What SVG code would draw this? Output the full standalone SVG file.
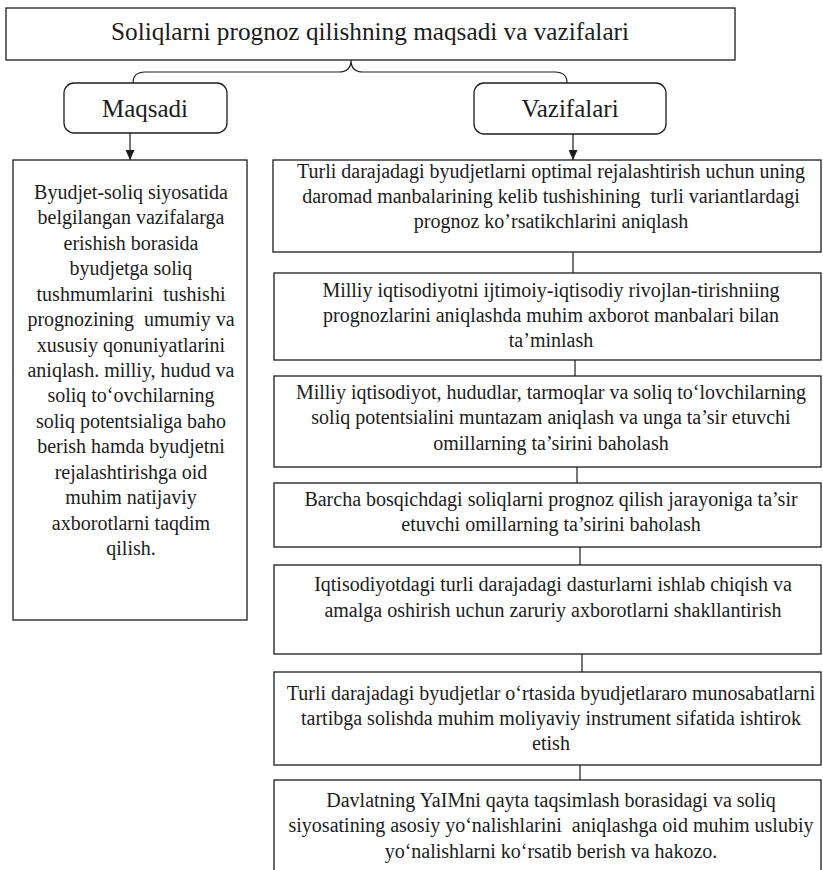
<svg xmlns="http://www.w3.org/2000/svg" width="823" height="870" viewBox="0 0 823 870">
  <defs>
    <style>
      .box{fill:#fff;stroke:#1c1c1c;stroke-width:1.3}
      .link{fill:none;stroke:#1c1c1c;stroke-width:1.2}
      .t{font-family:"Liberation Serif","Times New Roman",serif;fill:#1c1c1c;text-anchor:middle}
      .head{font-size:25px}
      .body{font-size:20px}
    </style>
    <marker id="ah" markerUnits="userSpaceOnUse" markerWidth="10" markerHeight="9" refX="10" refY="4.5" orient="auto">
      <path d="M0,0 L10,4.5 L0,9 z" fill="#1c1c1c"/>
    </marker>
  </defs>
  <rect width="823" height="870" fill="#fff"/>

  <!-- connectors -->
  <g id="connectors">
    <path class="link" d="M133,83 Q133,72 145,72 L339,72 Q351,72 351,60 Q351,72 363,72 L555,72 Q567,72 567,83"/>
    <path class="link" d="M130,133 L130,160" marker-end="url(#ah)"/>
    <path class="link" d="M573,134 L573,160" marker-end="url(#ah)"/>
    <path class="link" d="M573,252 L573,273"/>
    <path class="link" d="M575,360 L575,376"/>
    <path class="link" d="M577,467 L577,483"/>
    <path class="link" d="M580,547 L580,565"/>
    <path class="link" d="M582,654 L582,672"/>
    <path class="link" d="M580,765 L580,780"/>
  </g>

  <!-- title -->
  <g id="title">
    <rect class="box" x="6" y="8" width="729" height="52"/>
    <text class="t head" x="370" y="40" textLength="518" lengthAdjust="spacingAndGlyphs">Soliqlarni prognoz qilishning maqsadi va vazifalari</text>
  </g>

  <g id="maqsadi">
    <rect class="box" x="64" y="83" width="163" height="50" rx="10"/>
    <text class="t head" x="145" y="117">Maqsadi</text>
  </g>

  <g id="vazifalari">
    <rect class="box" x="474" y="83" width="192" height="51" rx="10"/>
    <text class="t head" x="570" y="117">Vazifalari</text>
  </g>

  <!-- goal description -->
  <g id="goal">
    <rect class="box" x="13" y="160" width="234" height="460"/>
    <text class="t body"><tspan x="131" y="199">Byudjet-soliq siyosatida</tspan><tspan x="131" y="224.4">belgilangan vazifalarga</tspan><tspan x="131" y="249.9">erishish borasida</tspan><tspan x="131" y="275.3">byudjetga soliq</tspan><tspan x="131" y="300.7">tushmumlarini&#160; tushishi</tspan><tspan x="131" y="326.1">prognozining&#160; umumiy va</tspan><tspan x="131" y="351.6">xususiy qonuniyatlarini</tspan><tspan x="131" y="377">aniqlash. milliy, hudud va</tspan><tspan x="131" y="402.4">soliq to‘ovchilarning</tspan><tspan x="131" y="427.9">soliq potentsialiga baho</tspan><tspan x="131" y="453.3">berish hamda byudjetni</tspan><tspan x="131" y="478.7">rejalashtirishga oid</tspan><tspan x="131" y="504.1">muhim natijaviy</tspan><tspan x="131" y="529.6">axborotlarni taqdim</tspan><tspan x="131" y="555">qilish.</tspan></text>
  </g>

  <!-- task list -->
  <g id="task1">
    <rect class="box" x="273" y="160" width="548" height="92"/>
    <text class="t body"><tspan x="551" y="178">Turli darajadagi byudjetlarni optimal rejalashtirish uchun uning</tspan><tspan x="551" y="203">daromad manbalarining kelib tushishining&#160; turli variantlardagi</tspan><tspan x="551" y="228">prognoz ko’rsatikchlarini aniqlash</tspan></text>
  </g>

  <g id="task2">
    <rect class="box" x="274" y="273" width="547" height="87"/>
    <text class="t body"><tspan x="551" y="297">Milliy iqtisodiyotni ijtimoiy-iqtisodiy rivojlan-tirishniing</tspan><tspan x="551" y="322">prognozlarini aniqlashda muhim axborot manbalari bilan</tspan><tspan x="551" y="347">ta’minlash</tspan></text>
  </g>

  <g id="task3">
    <rect class="box" x="274" y="376" width="547" height="91"/>
    <text class="t body"><tspan x="551" y="399">Milliy iqtisodiyot, hududlar, tarmoqlar va soliq to‘lovchilarning</tspan><tspan x="551" y="424">soliq potentsialini muntazam aniqlash va unga ta’sir etuvchi</tspan><tspan x="551" y="450">omillarning ta’sirini baholash</tspan></text>
  </g>

  <g id="task4">
    <rect class="box" x="274" y="483" width="547" height="64"/>
    <text class="t body"><tspan x="551" y="506">Barcha bosqichdagi soliqlarni prognoz qilish jarayoniga ta’sir</tspan><tspan x="551" y="531">etuvchi omillarning ta’sirini baholash</tspan></text>
  </g>

  <g id="task5">
    <rect class="box" x="274" y="565" width="547" height="89"/>
    <text class="t body"><tspan x="553" y="591">Iqtisodiyotdagi turli darajadagi dasturlarni ishlab chiqish va</tspan><tspan x="553" y="617">amalga oshirish uchun zaruriy axborotlarni shakllantirish</tspan></text>
  </g>

  <g id="task6">
    <rect class="box" x="274" y="672" width="547" height="93"/>
    <text class="t body"><tspan x="551" y="700">Turli darajadagi byudjetlar o‘rtasida byudjetlararo munosabatlarni</tspan><tspan x="551" y="725">tartibga solishda muhim moliyaviy instrument sifatida ishtirok</tspan><tspan x="551" y="750">etish</tspan></text>
  </g>

  <g id="task7">
    <rect class="box" x="274" y="780" width="547" height="100"/>
    <text class="t body"><tspan x="551" y="807">Davlatning YaIMni qayta taqsimlash borasidagi va soliq</tspan><tspan x="551" y="832">siyosatining asosiy yo‘nalishlarini&#160; aniqlashga oid muhim uslubiy</tspan><tspan x="551" y="858">yo‘nalishlarni ko‘rsatib berish va hakozo.</tspan></text>
  </g>
</svg>
